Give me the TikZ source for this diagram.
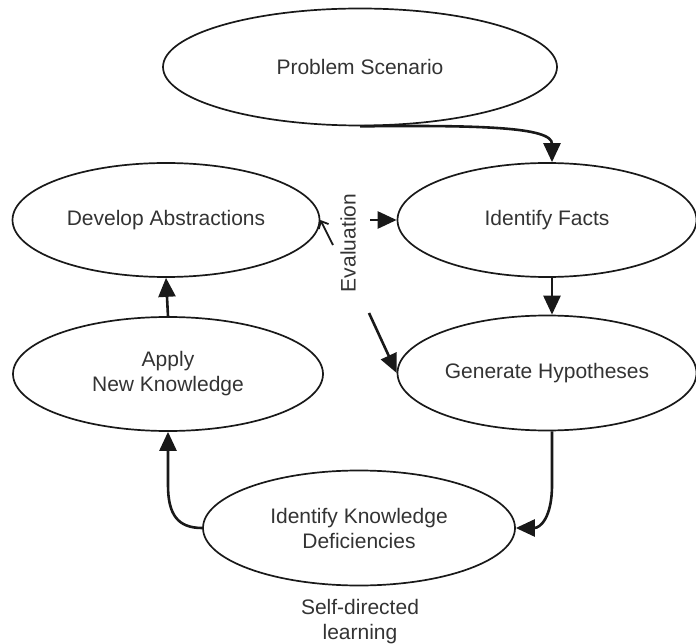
\documentclass[tikz,border=0pt]{standalone}
\usepackage{fontspec}
\setmainfont{Liberation Sans}
\usetikzlibrary{shapes.geometric,arrows.meta}
\definecolor{ink}{gray}{0.1}
\definecolor{txt}{gray}{0.2}
\begin{document}
\begin{tikzpicture}[x=1pt,y=-1pt,
  oval/.style={ellipse,draw=ink,line width=1.7pt,inner sep=0pt,
    font=\fontsize{21}{25}\selectfont,text=txt,align=center},
  arr/.style={draw=ink,line width=2.6pt,-{Triangle[length=19pt,width=17pt]}},
  lbl/.style={font=\fontsize{21}{25}\selectfont,text=txt,align=center}]
\useasboundingbox (0,0) rectangle (696,644);
\node[oval,minimum width=394pt,minimum height=117pt] (ps) at (360,67) {Problem Scenario};
\node[oval,minimum width=307pt,minimum height=114pt] (da) at (166,220) {Develop Abstractions};
\node[oval,minimum width=299pt,minimum height=114pt] (idf) at (547,220) {Identify Facts};
\node[oval,minimum width=310pt,minimum height=114pt] (ank) at (168,374) {Apply\\New Knowledge};
\node[oval,minimum width=299pt,minimum height=115pt] (gh) at (547,373) {Generate Hypotheses};
\node[oval,minimum width=312pt,minimum height=115pt] (ikd) at (359,528) {Identify Knowledge\\Deficiencies};
\node[lbl,rotate=90] (ev) at (348,243) {Evaluation};
\node[lbl,anchor=north] (sdl) at (360,596) {Self-directed\\learning};
\coordinate (e1) at (333,245);
\coordinate (e2) at (370,220);
\coordinate (e3) at (369,313);
% connectors
\draw[arr] (ps.south) .. controls (480,125) and (552,127) .. ([xshift=5]idf.north);
\draw[arr] ([xshift=5]idf.south) -- ([xshift=5]gh.north);
\draw[arr] (gh.south -| 552,0) -- (552,485) .. controls (552,518) and (540,528) .. (ikd.east);
\draw[arr] (ikd.west) .. controls (178,528) and (168,515) .. (168,485) -- (ank.south);
\draw[arr] (ank.north) -- (da.south);
\draw[arr] (e2) -- (idf.west);
\draw[arr] (e3) -- (gh.west);
\draw[draw=ink,line width=1.8pt,-{Straight Barb[length=6pt,width=11pt]}] (e1) -- (da.east);
\end{tikzpicture}
\end{document}
